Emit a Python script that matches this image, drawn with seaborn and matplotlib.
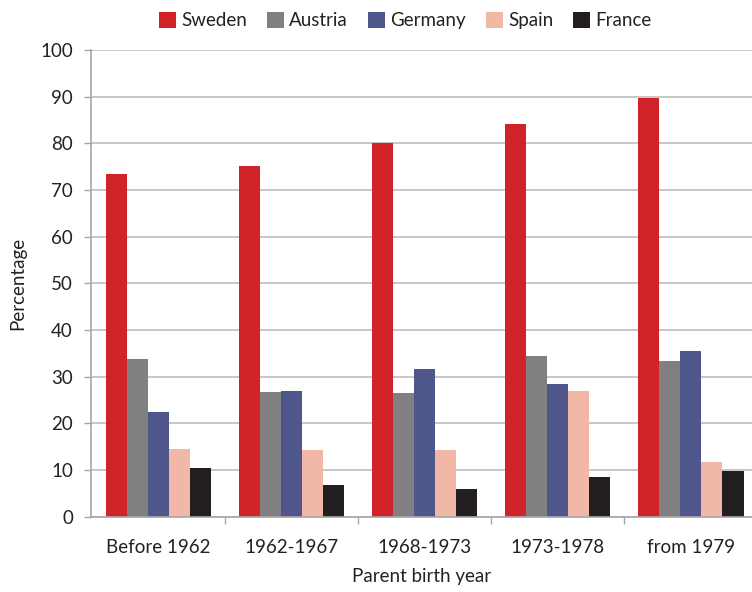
import matplotlib
matplotlib.use("Agg")
import matplotlib.pyplot as plt
import seaborn as sns
import pandas as pd
from matplotlib.patches import Patch
from matplotlib.ticker import FixedLocator

categories = ["Before 1962", "1962-1967", "1968-1973", "1973-1978", "from 1979"]
countries = ["Sweden", "Austria", "Germany", "Spain", "France"]
sweden = [73.4, 75.1, 80.0, 84.1, 89.7]
austria = [33.8, 26.7, 26.4, 34.4, 33.4]
germany = [22.4, 26.9, 31.6, 28.4, 35.5]
spain = [14.5, 14.3, 14.3, 26.9, 11.7]
france = [10.4, 6.8, 5.9, 8.5, 9.8]
colors = ["#D0232A", "#808083", "#4F568C", "#F0B8A5", "#231F20"]

series = [sweden, austria, germany, spain, france]
rows = []
for c, vals in zip(countries, series):
    for cat, v in zip(categories, vals):
        rows.append({"Parent birth year": cat, "Country": c, "Percentage": v})
df = pd.DataFrame(rows)

sns.set_theme(style="white")
plt.rcParams["font.family"] = ["Lato", "DejaVu Sans"]

FS = 13.5
fig = plt.figure(figsize=(7.52, 5.92), dpi=100)
ax = fig.add_axes([91/752, 75.3/592, 661/752, 466.7/592])

sns.barplot(data=df, x="Parent birth year", y="Percentage", hue="Country",
            hue_order=countries, order=categories, palette=colors,
            width=0.79, saturation=1, ax=ax, legend=False, linewidth=0)

ax.set_ylim(0, 100)
ax.set_xlim(-0.5 - 1/133.5, 4.5 - 5.5/133.5)
ax.set_yticks(range(0, 101, 10))
ax.yaxis.grid(True, color="#BDBDBD", linewidth=1.2)
ax.set_axisbelow(True)
for s in ["top", "right"]:
    ax.spines[s].set_visible(False)
for s in ["left", "bottom"]:
    ax.spines[s].set_color("#A6A6A6")
    ax.spines[s].set_linewidth(1.2)

ax.tick_params(axis="y", which="major", left=True, length=5, width=1, color="#A6A6A6",
               labelsize=FS, labelcolor="#222222", pad=8)
ax.tick_params(axis="x", which="major", bottom=False, labelsize=FS,
               labelcolor="#222222", pad=10)
ax.xaxis.set_minor_locator(FixedLocator([0.5, 1.5, 2.5, 3.5]))
ax.tick_params(axis="x", which="minor", bottom=True, length=5, width=1, color="#A6A6A6")

ax.set_xlabel("Parent birth year", fontsize=FS, color="#222222", labelpad=9)
ax.set_ylabel("Percentage", fontsize=FS, color="#222222", labelpad=10)

handles = [Patch(facecolor=c, edgecolor="none", label=n) for c, n in zip(colors, countries)]
fig.legend(handles=handles, loc="center", bbox_to_anchor=(0.539, 0.965), ncol=5,
           frameon=False, fontsize=FS, handlelength=0.9, handleheight=0.9,
           handletextpad=0.3, columnspacing=1.05, labelcolor="#222222")

fig.savefig("out.png", dpi=100)
